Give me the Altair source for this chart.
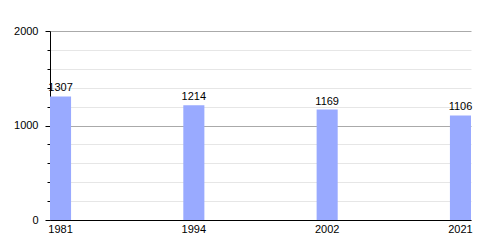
import altair as alt
import pandas as pd

years = ["1981", "1994", "2002", "2021"]
population = [1307, 1214, 1169, 1106]
y_ticks = [0, 200, 400, 600, 800, 1000, 1200, 1400, 1600, 1800, 2000]

df = pd.DataFrame({"year": years, "pop": population})

FONT = "Liberation Sans"

x = alt.X(
    "year:O",
    sort=years,
    title=None,
    scale=alt.Scale(paddingInner=0.842, paddingOuter=0),
    axis=alt.Axis(
        labelAngle=0, ticks=False, labelPadding=3, labelFontSize=11,
        labelColor="#000", labelFont=FONT, domainColor="#000", domainWidth=1,
        grid=False,
    ),
)
y = alt.Y(
    "pop:Q",
    title=None,
    scale=alt.Scale(domain=[0, 2000], nice=False),
    axis=alt.Axis(
        values=y_ticks,
        labelExpr="datum.value % 1000 === 0 ? datum.label : ''",
        format="d",
        labelFontSize=11, labelColor="#000", labelFont=FONT,
        labelPadding=7,
        tickColor="#000",
        tickSize={"condition": {"test": "datum.value % 1000 === 0", "value": 5}, "value": 3},
        domainColor="#000",
        grid=True,
        gridColor={"condition": {"test": "datum.value % 1000 === 0", "value": "#aaaaaa"}, "value": "#e6e6e6"},
        gridWidth=1,
    ),
)

base = alt.Chart(df).encode(x=x, y=y)
bars = base.mark_bar(color="#99aaff")
labels = base.mark_text(
    baseline="alphabetic", dy=-5, fontSize=11, font=FONT, color="#000"
).encode(text="pop:Q")

chart = (
    alt.layer(bars, labels)
    .properties(
        width=421, height=189,
        autosize=alt.AutoSizeParams(type="none"),
        padding={"left": 50, "top": 31, "right": 29, "bottom": 30},
        background="#ffffff",
    )
    .configure_view(stroke=None)
)

chart.save("out.html", embed_options={"renderer": "svg", "actions": False})
